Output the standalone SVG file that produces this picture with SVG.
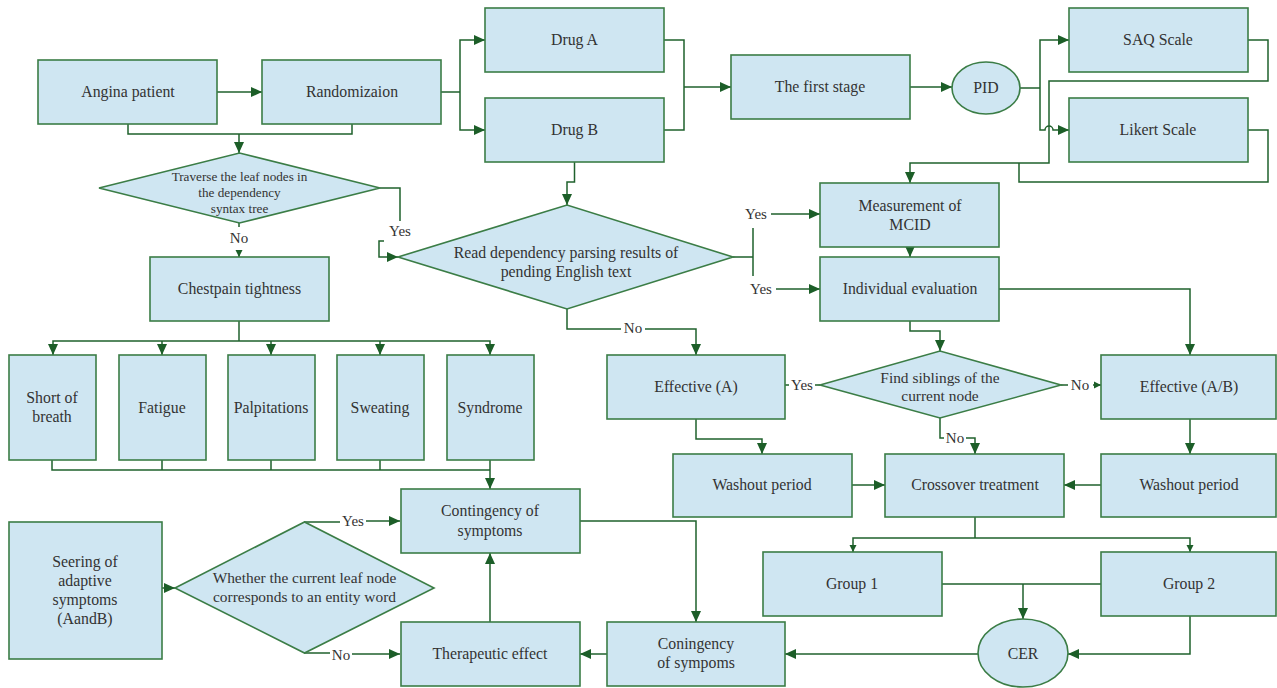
<svg xmlns="http://www.w3.org/2000/svg" width="1277" height="688" viewBox="0 0 1277 688">
<defs>
<marker id="ah" markerUnits="userSpaceOnUse" markerWidth="12" markerHeight="12" refX="11" refY="6" orient="auto"><path d="M0,1 L11,6 L0,11 z" fill="#1c5e28"/></marker>
<marker id="as" markerUnits="userSpaceOnUse" markerWidth="8" markerHeight="8" refX="7" refY="4" orient="auto"><path d="M0,0.5 L7,4 L0,7.5 z" fill="#1c5e28"/></marker>
</defs>
<style>
.n rect,.n ellipse,.n polygon{fill:#cfe6f2;stroke:#3b7d46;stroke-width:1.6}
text{font-family:"Liberation Serif","Times New Roman",serif;font-size:15.8px;fill:#333;text-anchor:middle;dominant-baseline:central}
.sm{font-size:13.2px}
.md{font-size:15.4px}
.c path{fill:none;stroke:#1f612c;stroke-width:1.5}
.c .a{marker-end:url(#ah)}
.c .s{marker-end:url(#as)}
.lb{font-size:15px}
</style>
<rect width="1277" height="688" fill="#fff"/>
<g class="c" id="connectors">
<path class="a" d="M217,92 H262"/>
<path d="M128,124 V134 H352 V124"/>
<path class="a" d="M239,134 V153"/>
<path d="M441,92 H460"/>
<path class="a" d="M460,92 V40 H485"/>
<path class="a" d="M460,92 V130 H485"/>
<path d="M664,40 H684 V87 M664,130 H684 V87"/>
<path class="a" d="M684,87 H731"/>
<path class="a" d="M910,87 H952"/>
<path d="M1020,88 H1040"/>
<path class="a" d="M1040,88 V40 H1069"/>
<path class="a" d="M1040,88 V130 H1045 A4,4 0 0 1 1053,130 H1069"/>
<path class="a" d="M1248,40 H1268 V81 H1049 V163 H910 V183"/>
<path d="M1248,130 H1268 V182 H1019 V163"/>
<path class="a" d="M910,247 V257"/>
<path class="a" d="M574.5,162 V182 H567 V205"/>
<path d="M380,188 H400 V221"/>
<path class="a" d="M384,241 H379 V257 H398"/>
<path d="M239,223 V227"/>
<path class="s" d="M239,250 V257"/>
<path d="M733,257 H753 M753,228 V276"/>
<path class="a" d="M771,214 H820"/>
<path class="a" d="M776,289 H820"/>
<path d="M567,309 V329 H621"/>
<path class="a" d="M645,329 H696 V355"/>
<path d="M239,321 V341"/>
<path class="a" d="M239,341 H53 V355"/>
<path class="a" d="M239,341 H490 V355"/>
<path class="a" d="M162,341 V355"/>
<path class="a" d="M271,341 V355"/>
<path class="a" d="M380,341 V355"/>
<path d="M52,460 V470 H490 M162,460 V470 M271,460 V470 M380,460 V470"/>
<path class="a" d="M490,460 V489"/>
<path class="a" d="M910,321 V331 H940 V351"/>
<path class="a" d="M999,289 H1190 V355"/>
<path d="M820,385 H815 M789,385 H785"/>
<path d="M1061,385 H1068"/>
<path class="s" d="M1093,385 H1101"/>
<path d="M940,418 V438 H944"/>
<path class="a" d="M966,438 H975 V454"/>
<path class="a" d="M696,419 V439 H762 V454"/>
<path class="a" d="M852,485 H885"/>
<path class="a" d="M1101,485 H1064"/>
<path class="a" d="M1190,419 V454"/>
<path d="M975,517 V538"/>
<path class="s" d="M975,538 H853 V552"/>
<path class="s" d="M975,538 H1190 V552"/>
<path d="M942,584 H1101"/>
<path class="a" d="M1023,584 V619"/>
<path class="a" d="M1190,616 V654 H1068"/>
<path class="a" d="M978,654 H785"/>
<path class="a" d="M607,654 H580"/>
<path class="a" d="M580,521 H696 V622"/>
<path class="a" d="M490,622 V553"/>
<path d="M304,522 H340"/>
<path class="a" d="M366,521 H400"/>
<path d="M304,653 H330"/>
<path class="a" d="M352,654 H400"/>
<path class="a" d="M162,588 H175"/>
</g>
<g id="labels">
<text class="lb" x="400" y="231">Yes</text>
<text class="lb" x="239" y="238">No</text>
<text class="lb" x="756" y="214">Yes</text>
<text class="lb" x="761" y="289">Yes</text>
<text class="lb" x="633" y="328">No</text>
<text class="lb" x="802" y="385">Yes</text>
<text class="lb" x="1080" y="385">No</text>
<text class="lb" x="955" y="438">No</text>
<text class="lb" x="353" y="521">Yes</text>
<text class="lb" x="341" y="655">No</text>
</g>
<g class="n" id="angina"><rect x="38" y="60" width="179" height="64"/><text x="128" y="91">Angina patient</text></g>
<g class="n" id="random"><rect x="262" y="60" width="179" height="64"/><text x="352" y="91">Randomizaion</text></g>
<g class="n" id="drugA"><rect x="485" y="8" width="179" height="64"/><text x="574.5" y="39">Drug A</text></g>
<g class="n" id="drugB"><rect x="485" y="98" width="179" height="64"/><text x="574.5" y="129">Drug B</text></g>
<g class="n" id="stage"><rect x="731" y="55" width="179" height="64"/><text x="820" y="86">The first stage</text></g>
<g class="n" id="pid"><ellipse cx="986" cy="88" rx="34" ry="26"/><text x="986" y="87">PID</text></g>
<g class="n" id="saq"><rect x="1069" y="8" width="179" height="64"/><text x="1158" y="39">SAQ Scale</text></g>
<g class="n" id="likert"><rect x="1069" y="98" width="179" height="64"/><text x="1158" y="129">Likert Scale</text></g>
<g class="n" id="mcid"><rect x="820" y="183" width="179" height="64"/><text x="910" y="205">Measurement of</text><text x="910" y="224">MCID</text></g>
<g class="n" id="indiv"><rect x="820" y="257" width="179" height="64"/><text x="910" y="288">Individual evaluation</text></g>
<g class="n" id="traverse"><polygon points="99,188 239.5,153 380,188 239.5,223"/><text class="sm" x="239.5" y="176">Traverse the leaf nodes in</text><text class="sm" x="239.5" y="192">the dependency</text><text class="sm" x="239.5" y="208">syntax tree</text></g>
<g class="n" id="chest"><rect x="150" y="257" width="179" height="64"/><text x="239.5" y="288">Chestpain tightness</text></g>
<g class="n" id="read"><polygon points="398,257 567,205 733,257 567,309"/><text x="566" y="252">Read dependency parsing results of</text><text x="566" y="271">pending English text</text></g>
<g class="n" id="sob"><rect x="9" y="355" width="87" height="105"/><text x="52" y="397">Short of</text><text x="52" y="416">breath</text></g>
<g class="n" id="fatigue"><rect x="119" y="355" width="87" height="105"/><text x="162" y="407">Fatigue</text></g>
<g class="n" id="palp"><rect x="228" y="355" width="87" height="105"/><text x="271" y="407">Palpitations</text></g>
<g class="n" id="sweat"><rect x="337" y="355" width="87" height="105"/><text x="380" y="407">Sweating</text></g>
<g class="n" id="synd"><rect x="447" y="355" width="87" height="105"/><text x="490" y="407">Syndrome</text></g>
<g class="n" id="effA"><rect x="607" y="355" width="178" height="64"/><text x="696" y="386">Effective (A)</text></g>
<g class="n" id="siblings"><polygon points="820,385 940,351 1061,385 940,418"/><text class="md" x="940" y="377">Find siblings of the</text><text class="md" x="940" y="395">current node</text></g>
<g class="n" id="effAB"><rect x="1101" y="355" width="175" height="64"/><text x="1189" y="386">Effective (A/B)</text></g>
<g class="n" id="washL"><rect x="673" y="454" width="179" height="63"/><text x="762" y="484">Washout period</text></g>
<g class="n" id="cross"><rect x="885" y="454" width="179" height="63"/><text x="975" y="484">Crossover treatment</text></g>
<g class="n" id="washR"><rect x="1101" y="454" width="175" height="63"/><text x="1189" y="484">Washout period</text></g>
<g class="n" id="contS"><rect x="401" y="489" width="179" height="64"/><text x="490" y="510">Contingency of</text><text x="490" y="530">symptoms</text></g>
<g class="n" id="seer"><rect x="9" y="522" width="153" height="137"/><text x="85" y="561">Seering of</text><text x="85" y="580">adaptive</text><text x="85" y="599">symptoms</text><text x="85" y="618">(AandB)</text></g>
<g class="n" id="whether"><polygon points="175,588 304.5,522 434,588 304.5,653"/><text class="md" x="304.5" y="577">Whether the current leaf node</text><text class="md" x="304.5" y="596">corresponds to an entity word</text></g>
<g class="n" id="g1"><rect x="763" y="552" width="179" height="64"/><text x="852" y="583">Group 1</text></g>
<g class="n" id="g2"><rect x="1101" y="552" width="175" height="64"/><text x="1189" y="583">Group 2</text></g>
<g class="n" id="cer"><ellipse cx="1023" cy="653" rx="45" ry="34"/><text x="1023" y="653">CER</text></g>
<g class="n" id="coning"><rect x="607" y="622" width="178" height="64"/><text x="696" y="643">Coningency</text><text x="696" y="662">of sympoms</text></g>
<g class="n" id="thera"><rect x="401" y="622" width="179" height="64"/><text x="490" y="653">Therapeutic effect</text></g>
</svg>
